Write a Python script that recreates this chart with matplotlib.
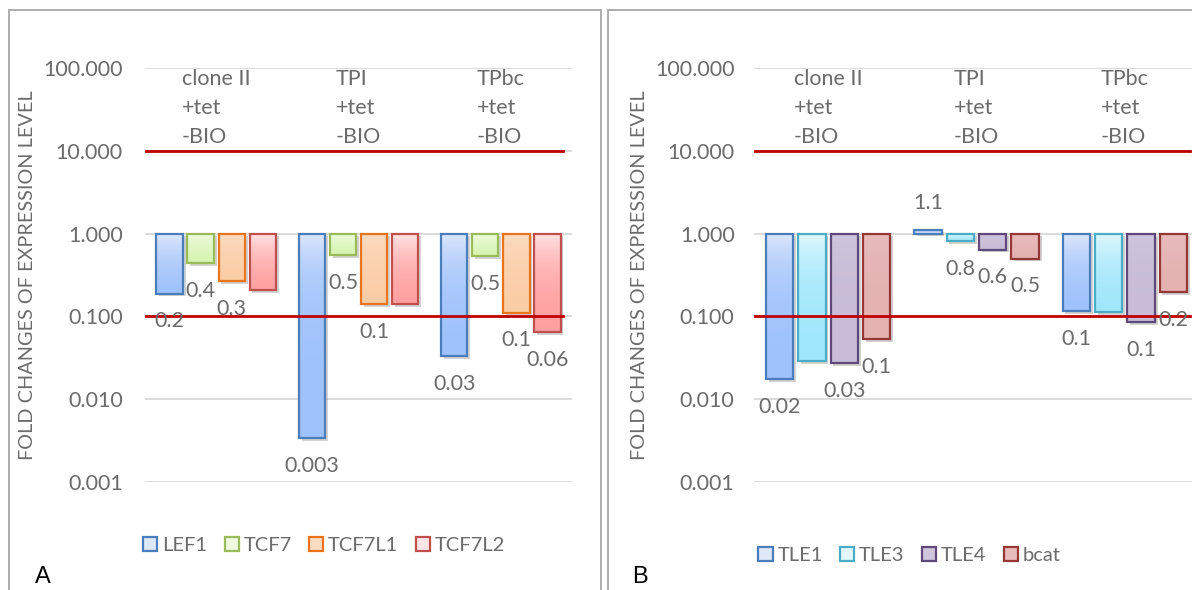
import numpy as np
import matplotlib
matplotlib.use("Agg")
import matplotlib.pyplot as plt
import matplotlib.patheffects as pe
import matplotlib.transforms as mtransforms
from matplotlib.colors import LinearSegmentedColormap
from matplotlib.patches import Patch, Rectangle

plt.rcParams['font.family'] = ['Lato', 'DejaVu Sans']

categories = ["clone II\n+tet\n-BIO", "TPI\n+tet\n-BIO", "TPbc\n+tet\n-BIO"]

# panel A
genes_a = ["LEF1", "TCF7", "TCF7L1", "TCF7L2"]
lef1 = [0.189, 0.0034, 0.033]
tcf7 = [0.44, 0.55, 0.54]
tcf7l1 = [0.268, 0.141, 0.111]
tcf7l2 = [0.207, 0.141, 0.064]
labels_a = [["0.2", "0.003", "0.03"], ["0.4", "0.5", "0.5"],
            ["0.3", "0.1", "0.1"], [None, None, "0.06"]]

# panel B
genes_b = ["TLE1", "TLE3", "TLE4", "bcat"]
tle1 = [0.0175, 1.12, 0.117]
tle3 = [0.029, 0.82, 0.112]
tle4 = [0.0273, 0.64, 0.085]
bcat = [0.053, 0.50, 0.195]
labels_b = [["0.02", "1.1", "0.1"], [None, "0.8", None],
            ["0.03", "0.6", "0.1"], ["0.1", "0.5", "0.2"]]

thresholds = [10, 0.1]
yticks = [0.001, 0.01, 0.1, 1, 10, 100]

# (light at base, darker at end, edge)
styles_a = [("#dfe8fb", "#9fc2fb", "#4a7ebb"),
            ("#effbe0", "#d6f4b0", "#9bbb59"),
            ("#fcdcc2", "#fbcda6", "#e8741e"),
            ("#ffe6e6", "#ffa0a0", "#c0504d")]
styles_b = [("#dfe8fb", "#9fc2fb", "#4a7ebb"),
            ("#e2f8fe", "#a0e7fb", "#4bacc6"),
            ("#cfc5dd", "#c8bcd8", "#5f497a"),
            ("#e8bcbb", "#e3b2b1", "#953735")]

grey = "#6b6b6b"
fs = 15.5
grad = np.linspace(0, 1, 256).reshape(-1, 1)


def draw_panel(ax, genes, series, labels, styles, tickpad):
    x = np.arange(len(categories))
    width = 0.185
    step = 0.218
    for i, (vals, labs, (c0, c1, ec)) in enumerate(zip(series, labels, styles)):
        xs = x + (i - 1.5) * step
        heights = np.array(vals) - 1
        shade = ax.bar(xs, heights, width, bottom=1, facecolor='none', edgecolor='none', zorder=2,
                       path_effects=[pe.SimplePatchShadow(offset=(2, -2), shadow_rgbFace='#808080', alpha=0.35)])
        cmap = LinearSegmentedColormap.from_list(genes[i], [c0, c1])
        for rect in shade:
            x0, y0, h = rect.get_x(), rect.get_y(), rect.get_height()
            im = ax.imshow(grad, extent=[x0, x0 + width, y0, y0 + h], origin='lower',
                           aspect='auto', cmap=cmap, zorder=2.5)
            im.set_clip_path(rect)
        ax.bar(xs, heights, width, bottom=1, facecolor='none', edgecolor=ec, linewidth=1.6, zorder=3)
        for xi, v, lab in zip(xs, vals, labs):
            if lab is None:
                continue
            off = 19 if v > 1 else -20
            ax.annotate(lab, (xi, v), xytext=(0, off), textcoords='offset points',
                        ha='center', va='center', fontsize=fs, color=grey, zorder=5)

    for xi, cat in zip(x, categories):
        ax.annotate(cat, (xi, 100), xytext=(0, -0.5), textcoords='offset points',
                    ha='center', va='top', multialignment='left', linespacing=1.56,
                    fontsize=fs, color=grey)

    trans = mtransforms.blended_transform_factory(ax.transAxes, ax.transData)
    for t in thresholds:
        ax.plot([0, 0.98], [t, t], transform=trans, color='#c00000', lw=2, zorder=4)

    ax.set_yscale('log')
    ax.set_xlim(-0.5, len(categories) - 0.5)
    ax.set_ylim(0.001, 100)
    ax.set_yticks(yticks)
    ax.set_yticklabels(["%.3f" % t for t in yticks])
    ax.minorticks_off()
    ax.set_xticks([])
    ax.yaxis.grid(True, color='#d9d9d9', lw=1.3)
    ax.set_axisbelow(True)
    for s in ax.spines.values():
        s.set_visible(False)
    ax.tick_params(axis='y', length=0, pad=tickpad, labelsize=fs, labelcolor=grey)
    ax.set_ylabel("FOLD CHANGES OF EXPRESSION LEVEL", fontsize=14.3, color=grey, labelpad=5)


fig = plt.figure(figsize=(11.92, 5.9), dpi=100)
ax_a = fig.add_axes([145 / 1192, 1 - 482 / 590, 427 / 1192, 414 / 590])
ax_b = fig.add_axes([754 / 1192, 1 - 482 / 590, 445 / 1192, 414 / 590])

draw_panel(ax_a, genes_a, [lef1, tcf7, tcf7l1, tcf7l2], labels_a, styles_a, 16)
draw_panel(ax_b, genes_b, [tle1, tle3, tle4, bcat], labels_b, styles_b, 14)

for ax, genes, styles, pos in [(ax_a, genes_a, styles_a, (0.272, 0.076)),
                               (ax_b, genes_b, styles_b, (0.763, 0.058))]:
    handles = [Patch(facecolor=c0, edgecolor=ec, linewidth=1.6, label=g)
               for g, (c0, c1, ec) in zip(genes, styles)]
    ax.legend(handles=handles, loc='center', bbox_to_anchor=pos, bbox_transform=fig.transFigure,
              ncol=4, frameon=False, handlelength=0.7, handleheight=0.7, handletextpad=0.25,
              columnspacing=0.85, fontsize=14.5, labelcolor=grey)

fig.add_artist(Rectangle((8.5 / 1192, -0.01), (601 - 8.5) / 1192, 1 - 10 / 590 + 0.01,
                         transform=fig.transFigure, fill=False, ec='#a6a6a6', lw=1.3))
fig.add_artist(Rectangle((608 / 1192, -0.01), 0.6, 1 - 10 / 590 + 0.01,
                         transform=fig.transFigure, fill=False, ec='#a6a6a6', lw=1.3))
fig.text(35 / 1192, 0.012, "A", fontsize=17, family='Liberation Sans', color='black')
fig.text(632 / 1192, 0.012, "B", fontsize=17, family='Liberation Sans', color='black')

fig.savefig("out.png", dpi=100)
